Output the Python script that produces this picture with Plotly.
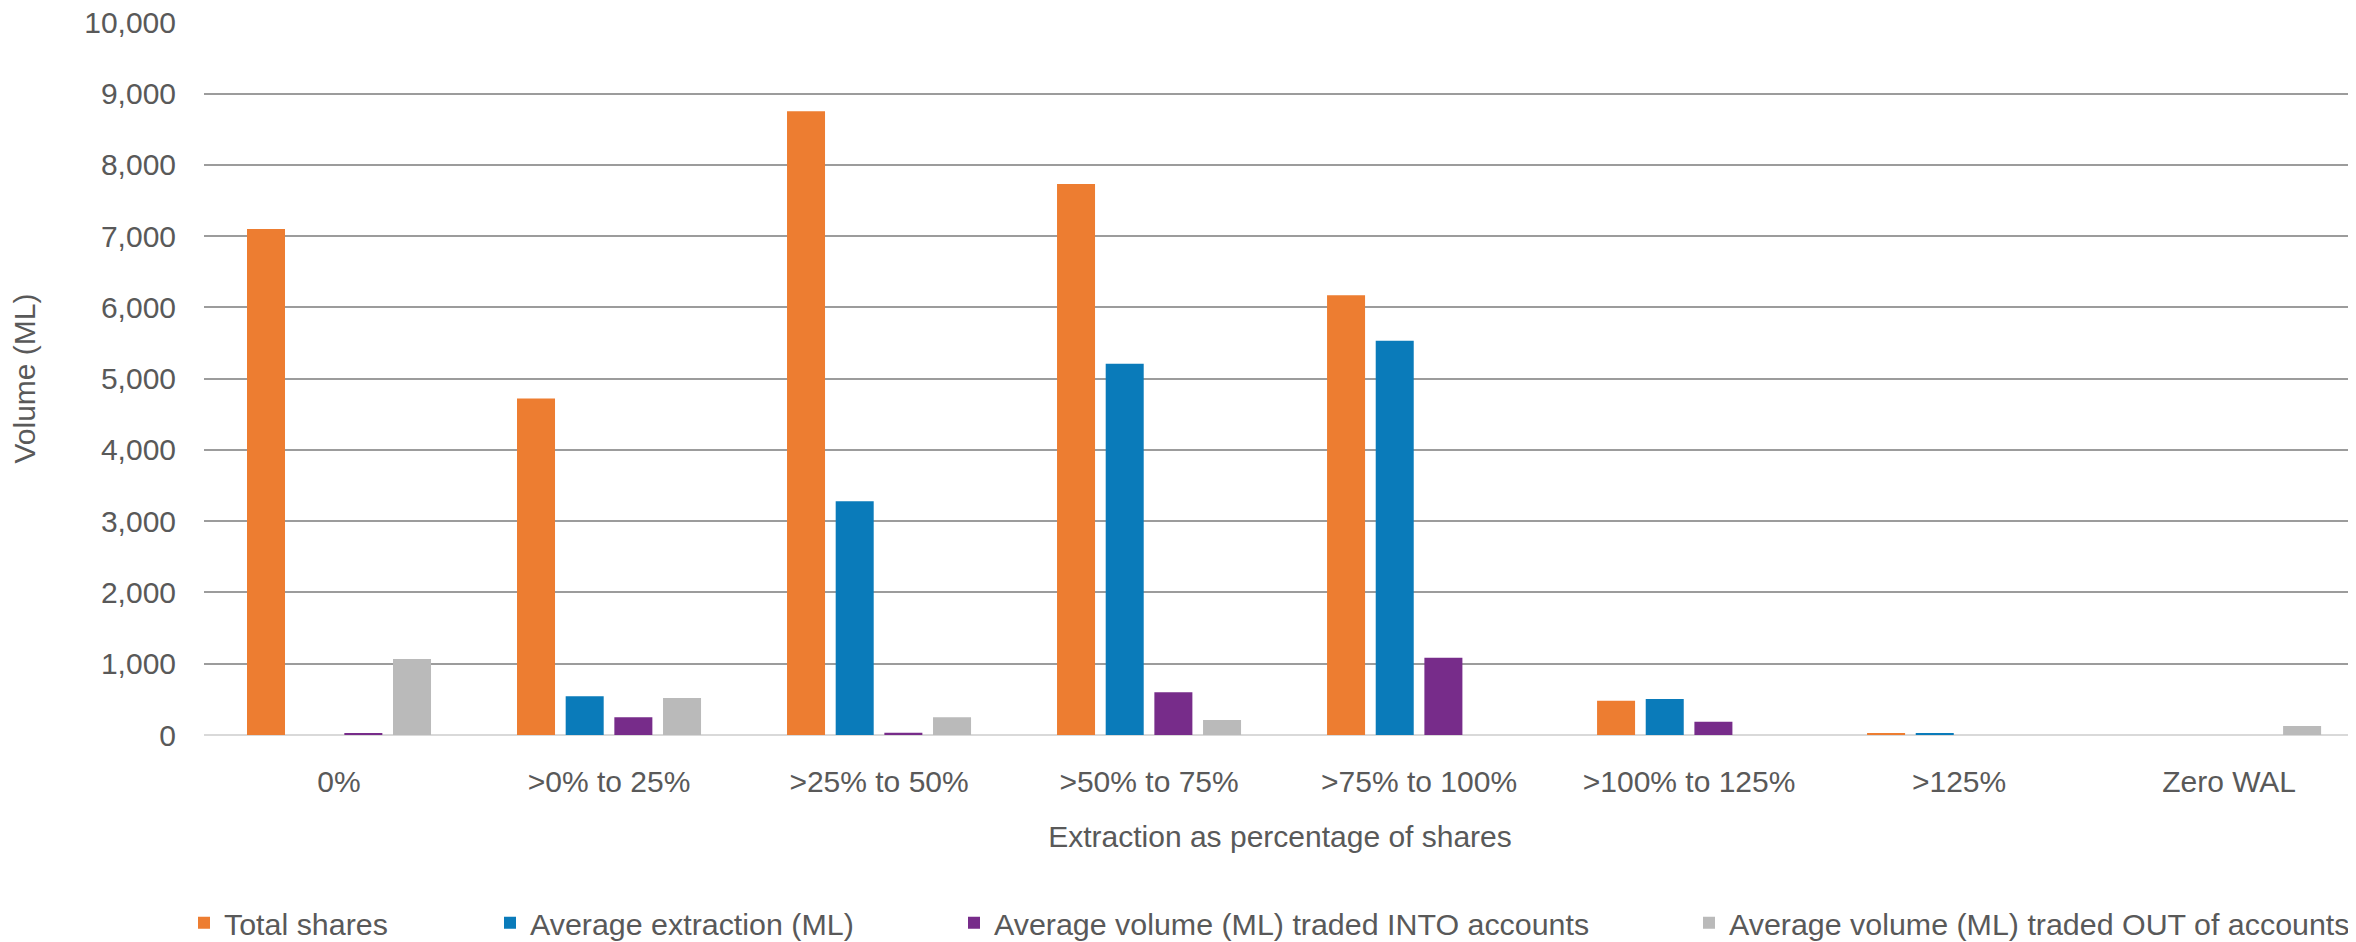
import plotly.graph_objects as go

categories = ["0%", ">0% to 25%", ">25% to 50%", ">50% to 75%", ">75% to 100%",
              ">100% to 125%", ">125%", "Zero WAL"]
total_shares = [7100, 4720, 8750, 7730, 6170, 480, 15, 0]
avg_extraction = [0, 545, 3280, 5210, 5530, 505, 28, 0]
traded_into = [15, 250, 30, 600, 1085, 185, 0, 0]
traded_out = [1065, 520, 250, 210, 0, 0, 0, 125]
y_ticks = [0, 1000, 2000, 3000, 4000, 5000, 6000, 7000, 8000, 9000, 10000]

series_names = ["Total shares", "Average extraction (ML)",
                "Average volume (ML) traded INTO accounts",
                "Average volume (ML) traded OUT of accounts"]
series_values = [total_shares, avg_extraction, traded_into, traded_out]
colors = ["#ED7D31", "#0A7BBA", "#772C8A", "#BABABA"]

# page body adds an 8px offset; figure coordinates below account for it
W, H = 2348, 934
L, R, T, B = 196, 0, 14, 207
pw = W - L - R
ph = H - T - B

fig = go.Figure()
legend_keys = ["legend", "legend2", "legend3", "legend4"]
icon_px = [196, 502, 966, 1701]
for name, vals, col, lk in zip(series_names, series_values, colors, legend_keys):
    fig.add_trace(go.Bar(x=categories, y=vals, name=name, marker_color=col,
                         marker_line_width=0, legend=lk))

font = dict(family="Liberation Sans, Arial, sans-serif", size=30, color="#595959")
legend_font = dict(family="Liberation Sans, Arial, sans-serif", size=30.4, color="#595959")

layout_legends = {}
for lk, px in zip(legend_keys, icon_px):
    layout_legends[lk] = dict(
        x=(px - 20 - L) / pw, xanchor="left",
        y=-(915 - (H - B)) / ph, yanchor="middle",
        orientation="h", font=legend_font, bgcolor="rgba(0,0,0,0)",
        itemwidth=30, tracegroupgap=0,
    )

fig.update_layout(
    width=W, height=H,
    margin=dict(l=L, r=R, t=T, b=B, autoexpand=False),
    paper_bgcolor="white", plot_bgcolor="white",
    font=font,
    barmode="group", bargap=0.279, bargroupgap=0.219,
    showlegend=True,
    **layout_legends,
)
fig.update_xaxes(
    range=[-0.5, 7.47], automargin=False,
    showgrid=False, showline=False, zeroline=False, ticks="",
    tickfont=font, ticklabelstandoff=26,
    title=dict(text="Extraction as percentage of shares", font=font, standoff=28),
)
fig.update_yaxes(
    range=[0, 10004], tickmode="array", tickvals=y_ticks,
    ticktext=[f"{v:,}" for v in y_ticks], automargin=False,
    ticklabeloverflow="allow",
    showgrid=True, gridcolor="#9C9C9C", gridwidth=2,
    zeroline=True, zerolinecolor="#D9D9D9", zerolinewidth=2,
    showline=False, ticks="", tickfont=font, ticklabelstandoff=27,
    title=dict(text="Volume (ML)", font=font, standoff=53),
)

fig.write_html("out.html")
